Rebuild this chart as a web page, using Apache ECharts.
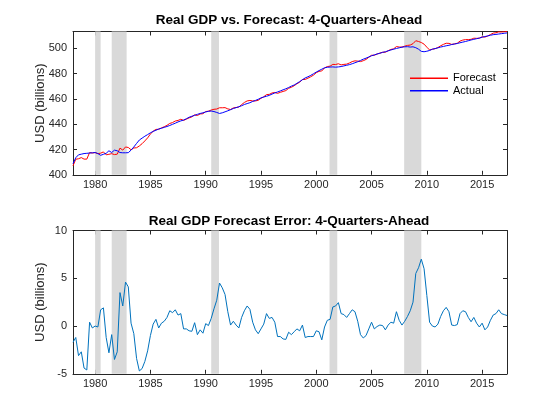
<!DOCTYPE html>
<html>
<head>
<meta charset="utf-8">
<script src="https://cdn.jsdelivr.net/npm/echarts@6/dist/echarts.min.js"></script>
<style>html,body{margin:0;padding:0;background:#fff}#c{width:560px;height:420px}</style>
</head>
<body>
<div id="c"></div>
<script>
const startYear = 1978;   // first quarter 1978Q1, quarterly observations
const actual = [
408.8,413.5,415.8,416.3,416.8,417.0,417.2,417.4,417.6,416.8,
415.4,416.2,417.0,419.0,417.6,419.5,419.0,417.6,417.4,417.4,
417.5,419.5,422.0,424.8,427.5,429.0,430.5,431.8,433.2,434.3,
435.2,436.2,436.8,437.5,438.2,439.0,439.9,440.8,441.8,442.6,
443.3,444.3,445.5,446.3,447.0,447.8,448.5,449.0,449.7,450.2,
450.4,450.0,449.3,448.5,449.0,449.8,450.6,451.5,452.4,453.1,
453.8,454.6,455.6,456.3,457.0,458.0,458.8,459.7,460.8,461.5,
462.1,462.8,463.8,464.7,465.5,466.3,467.2,468.0,469.0,470.1,
471.0,472.3,473.7,475.2,476.6,477.5,478.6,479.9,481.2,482.4,
483.5,484.6,485.0,485.2,485.3,485.1,485.3,485.6,486.1,486.6,
487.1,487.8,488.6,489.4,490.4,491.4,492.2,493.2,494.1,494.8,
495.5,496.1,496.8,497.3,498.0,498.7,499.3,499.9,500.4,500.9,
501.2,501.3,501.0,501.2,500.5,499.3,497.6,497.3,497.7,498.3,
499.3,499.8,500.4,501.0,501.5,502.0,502.4,503.0,503.4,503.8,
504.4,504.9,505.4,506.0,506.6,507.1,507.6,508.1,508.8,509.3,
509.8,510.3,510.8,511.0,511.3,511.6,511.9,512.2
];
const forecast = [
407.1,412.3,412.7,413.6,412.4,412.4,417.6,417.2,417.6,416.7,
417.1,418.1,415.8,416.2,416.7,416.0,416.3,421.1,419.5,422.0,
421.6,419.8,421.2,421.4,422.8,424.6,426.8,429.2,432.2,434.5,
435.9,436.0,437.1,438.0,439.1,440.6,441.3,442.5,443.0,443.9,
443.0,444.0,445.0,445.8,447.4,446.9,448.1,448.3,450.0,450.3,
451.2,451.8,452.0,453.0,453.0,453.1,452.1,451.6,452.9,453.2,
453.6,455.5,457.2,458.4,458.8,458.4,458.4,458.9,460.5,461.7,
463.4,463.6,464.7,465.1,464.4,465.2,465.9,466.6,468.4,469.2,
470.4,472.0,473.2,475.3,475.4,476.4,477.5,478.8,480.7,481.8,
482.1,484.5,485.6,485.9,487.3,487.2,487.8,486.9,487.3,487.5,
488.4,489.5,490.1,489.9,489.5,490.2,491.2,492.9,494.5,494.5,
495.5,496.2,496.9,496.9,498.1,499.1,499.6,501.4,501.0,501.0,
501.7,502.3,502.6,503.7,506.0,505.4,504.6,503.3,500.9,498.7,
499.3,499.7,500.6,502.0,503.1,504.0,503.9,503.1,503.5,504.0,
505.7,506.5,506.9,506.9,507.1,508.0,507.9,508.0,509.1,508.9,
509.7,510.9,512.0,512.3,513.0,512.9,513.1,513.3
];
const forecastError = [
-1.7,-1.2,-3.1,-2.7,-4.4,-4.6,0.4,-0.2,0.0,-0.1,
1.7,1.9,-1.2,-2.8,-0.9,-3.5,-2.7,3.5,2.1,4.6,
4.1,0.3,-0.8,-3.4,-4.7,-4.45,-3.7,-2.6,-1.0,0.2,
0.7,-0.2,0.3,0.5,0.9,1.6,1.4,1.7,1.15,1.3,
-0.3,-0.3,-0.5,-0.55,0.35,-0.9,-0.4,-0.75,0.25,0.05,
0.8,1.8,2.7,4.5,4.0,3.3,1.5,0.1,0.5,0.1,
-0.2,0.9,1.6,2.1,1.75,0.4,-0.4,-0.8,-0.3,0.2,
1.3,0.8,0.9,0.4,-1.1,-1.1,-1.35,-1.4,-0.65,-0.9,
-0.6,-0.3,-0.5,0.1,-1.2,-1.1,-1.1,-1.1,-0.5,-0.6,
-1.45,-0.1,0.6,0.7,2.0,2.1,2.45,1.3,1.2,0.9,
1.3,1.7,1.5,0.5,-0.9,-1.25,-1.0,-0.3,0.4,-0.3,
-0.05,0.1,0.05,-0.4,0.1,0.4,0.3,1.5,0.6,0.1,
0.5,1.0,1.6,2.5,5.5,6.1,7.0,6.0,3.2,0.4,
0.0,-0.1,0.2,1.0,1.6,1.95,1.5,0.1,0.05,0.15,
1.3,1.6,1.5,0.9,0.45,0.9,0.3,-0.1,0.3,-0.4,
-0.1,0.6,1.15,1.3,1.7,1.3,1.2,1.1
];
const recessions = [[1980.0,1980.5],[1981.5,1982.85],[1990.5,1991.2],[2001.2,2001.9],[2007.95,2009.5]];
const xTicks = [1980,1985,1990,1995,2000,2005,2010,2015];
const yTicksTop = [400,420,440,460,480,500];
const yTicksBottom = [-5,0,5,10];
const titles = ['Real GDP vs. Forecast: 4-Quarters-Ahead','Real GDP Forecast Error: 4-Quarters-Ahead'];
const yLabel = 'USD (billions)';
const seriesNames = ['Forecast','Actual'];

const dates = actual.map((_, k) => startYear + k / 4);
const pairs = arr => arr.map((v, k) => [dates[k], v]);

const FONT = 'Arial, "Liberation Sans", Helvetica, sans-serif';
const AX = '#262626';
const xMin = 1978, xMax = 2017.25;

function xAxis(g, pos, labels) {
  return {
    type: 'value', gridIndex: g, position: pos, min: xMin, max: xMax,
    axisLine: {show: true, onZero: false, lineStyle: {color: AX, width: 1}},
    axisTick: {show: true, inside: true, length: 4, customValues: xTicks, lineStyle: {color: AX}},
    axisLabel: {show: labels, customValues: xTicks, formatter: v => String(v),
      color: AX, fontSize: 11, fontFamily: FONT, margin: 5},
    splitLine: {show: false}
  };
}
function yAxis(g, pos, labels, min, max, ticks) {
  return {
    type: 'value', gridIndex: g, position: pos, min: min, max: max,
    name: labels ? yLabel : '', nameLocation: 'middle', nameRotate: 90, nameGap: 26,
    nameMoveOverlap: false,
    nameTextStyle: {color: AX, fontSize: 13, fontFamily: FONT},
    axisLine: {show: true, onZero: false, lineStyle: {color: AX, width: 1}},
    axisTick: {show: true, inside: true, length: 4, customValues: ticks, lineStyle: {color: AX}},
    axisLabel: {show: labels, customValues: ticks, formatter: v => String(v),
      color: AX, fontSize: 11, fontFamily: FONT, margin: 6},
    splitLine: {show: false}
  };
}
const bands = (xi, yi) => ({
  type: 'line', xAxisIndex: xi, yAxisIndex: yi, data: [], z: 1, silent: true,
  markArea: {silent: true, itemStyle: {color: '#d9d9d9', opacity: 1},
    data: recessions.map(r => [{xAxis: r[0]}, {xAxis: r[1]}])}
});

const chart = echarts.init(document.getElementById('c'), null, {renderer: 'canvas'});
chart.setOption({
  animation: false,
  backgroundColor: '#ffffff',
  title: [
    {text: titles[0], left: 289, top: 13.5, textAlign: 'center', padding: 0,
     textStyle: {fontSize: 13.5, fontWeight: 'bold', color: '#000', fontFamily: FONT}},
    {text: titles[1], left: 289, top: 214.5, textAlign: 'center', padding: 0,
     textStyle: {fontSize: 13.5, fontWeight: 'bold', color: '#000', fontFamily: FONT}}
  ],
  legend: {
    data: seriesNames, orient: 'vertical', left: 410, top: 72, padding: 0,
    itemWidth: 38, itemHeight: 1.5, itemGap: 0, icon: 'rect',
    textStyle: {fontSize: 11, fontFamily: FONT, color: '#000', lineHeight: 12.5}
  },
  grid: [
    {left: 73, top: 31.5, width: 434, height: 143.3, show: true, borderColor: AX, borderWidth: 0},
    {left: 73, top: 230.5, width: 434, height: 143.3, show: true, borderColor: AX, borderWidth: 0}
  ],
  xAxis: [xAxis(0, 'bottom', true), xAxis(0, 'top', false), xAxis(1, 'bottom', true), xAxis(1, 'top', false)],
  yAxis: [
    yAxis(0, 'left', true, 400, 513.3, yTicksTop), yAxis(0, 'right', false, 400, 513.3, yTicksTop),
    yAxis(1, 'left', true, -5, 10, yTicksBottom), yAxis(1, 'right', false, -5, 10, yTicksBottom)
  ],
  series: [
    bands(0, 0),
    bands(2, 2),
    {name: seriesNames[0], type: 'line', xAxisIndex: 0, yAxisIndex: 0, data: pairs(forecast), showSymbol: false, z: 3,
     lineStyle: {color: '#ff0000', width: 1}, itemStyle: {color: '#ff0000'}},
    {name: seriesNames[1], type: 'line', xAxisIndex: 0, yAxisIndex: 0, data: pairs(actual), showSymbol: false, z: 4,
     lineStyle: {color: '#0000ff', width: 1}, itemStyle: {color: '#0000ff'}},
    {name: 'Error', type: 'line', xAxisIndex: 2, yAxisIndex: 2, data: pairs(forecastError), showSymbol: false, z: 3,
     lineStyle: {color: '#0072BD', width: 1}, itemStyle: {color: '#0072BD'}}
  ]
});
</script>
</body>
</html>
